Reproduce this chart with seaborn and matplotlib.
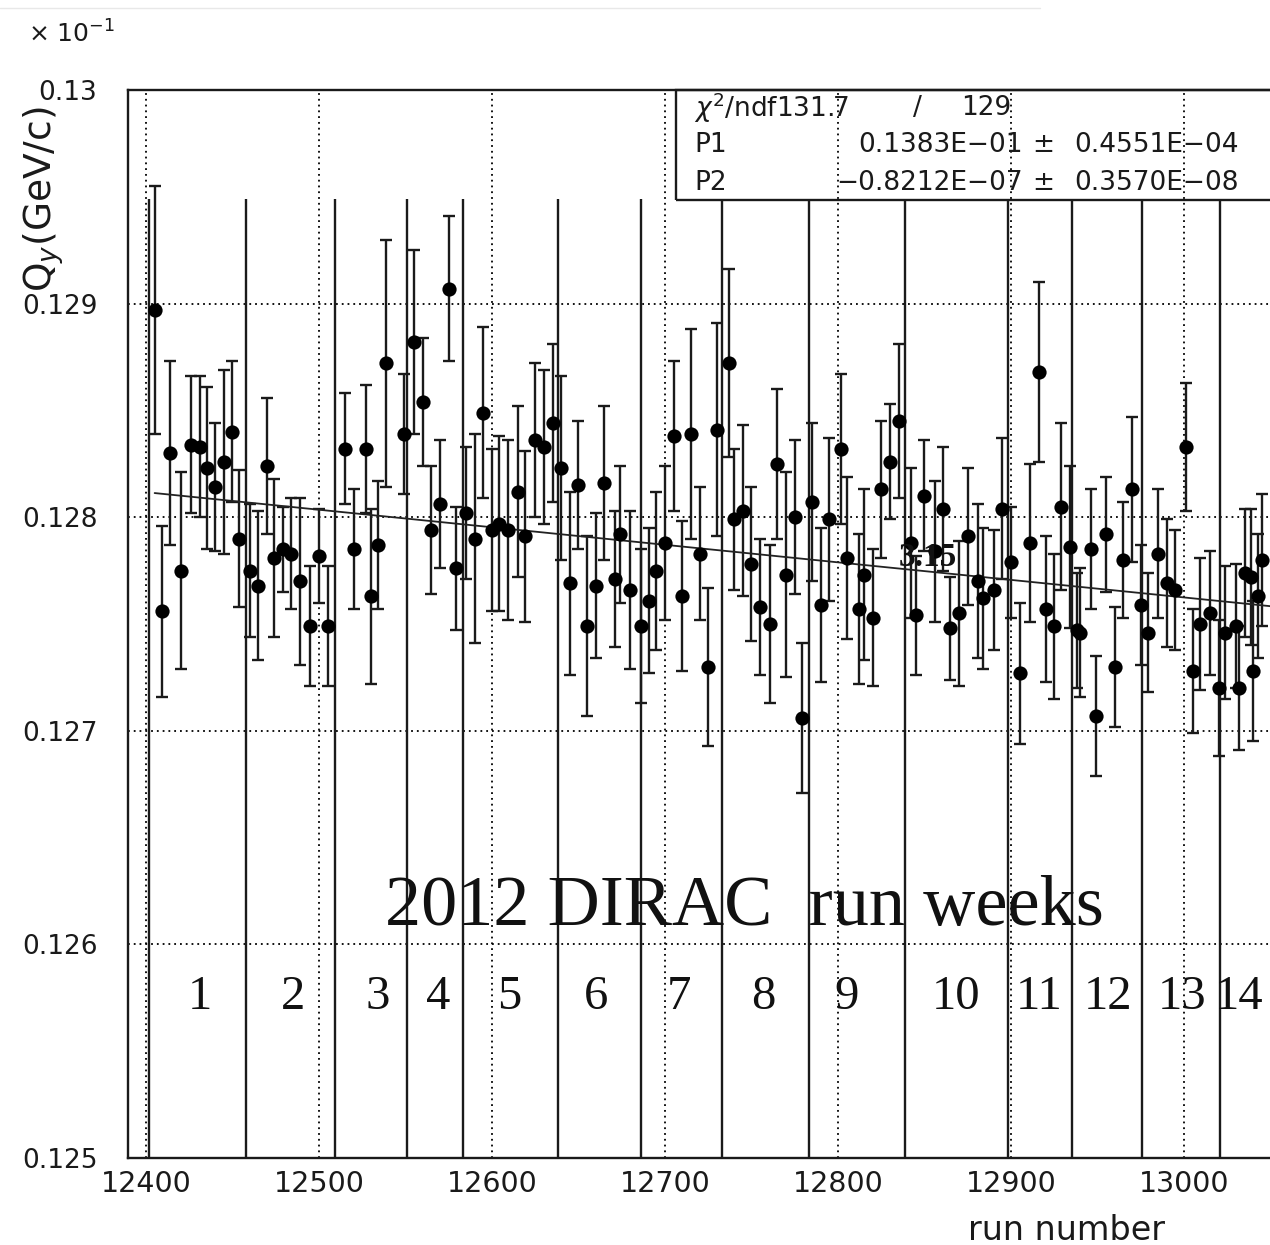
"""
Q_y vs run number, 2012 DIRAC run weeks (ROOT style panel)
"""

import numpy as np
import pandas as pd
import matplotlib
matplotlib.use("Agg")
import matplotlib.pyplot as plt
from matplotlib.ticker import MultipleLocator, FixedLocator, FixedFormatter
from matplotlib.patches import Rectangle
from matplotlib.lines import Line2D
import seaborn as sns

# data (y in units of 10^-1)
runs = [12405, 12409, 12414, 12420, 12426, 12431, 12435, 12440, 12445, 12450,
        12454, 12460, 12465, 12470, 12474, 12479, 12484, 12489, 12495, 12500,
        12505, 12515, 12520, 12527, 12530, 12534, 12539, 12549, 12555, 12560,
        12565, 12570, 12575, 12579, 12585, 12590, 12595, 12600, 12604, 12609,
        12615, 12619, 12625, 12630, 12635, 12640, 12645, 12650, 12655, 12660,
        12665, 12671, 12674, 12680, 12686, 12691, 12695, 12700, 12705, 12710,
        12715, 12720, 12725, 12730, 12737, 12740, 12745, 12750, 12755, 12761,
        12765, 12770, 12775, 12779, 12785, 12790, 12795, 12802, 12805, 12812,
        12815, 12820, 12825, 12830, 12835, 12842, 12845, 12850, 12856, 12861,
        12865, 12870, 12875, 12881, 12884, 12890, 12895, 12900, 12905, 12911,
        12916, 12920, 12925, 12929, 12934, 12938, 12940, 12946, 12949, 12955,
        12960, 12965, 12970, 12975, 12979, 12985, 12990, 12995, 13001, 13005,
        13009, 13015, 13020, 13024, 13030, 13032, 13035, 13039, 13040, 13043,
        13045]

qy = [0.12897, 0.12756, 0.12830, 0.12775, 0.12834, 0.12833, 0.12823, 0.12814, 0.12826, 0.12840,
      0.12790, 0.12775, 0.12768, 0.12824, 0.12781, 0.12785, 0.12783, 0.12770, 0.12749, 0.12782,
      0.12749, 0.12832, 0.12785, 0.12832, 0.12763, 0.12787, 0.12872, 0.12839, 0.12882, 0.12854,
      0.12794, 0.12806, 0.12907, 0.12776, 0.12802, 0.12790, 0.12849, 0.12794, 0.12797, 0.12794,
      0.12812, 0.12791, 0.12836, 0.12833, 0.12844, 0.12823, 0.12769, 0.12815, 0.12749, 0.12768,
      0.12816, 0.12771, 0.12792, 0.12766, 0.12749, 0.12761, 0.12775, 0.12788, 0.12838, 0.12763,
      0.12839, 0.12783, 0.12730, 0.12841, 0.12872, 0.12799, 0.12803, 0.12778, 0.12758, 0.12750,
      0.12825, 0.12773, 0.12800, 0.12706, 0.12807, 0.12759, 0.12799, 0.12832, 0.12781, 0.12757,
      0.12773, 0.12753, 0.12813, 0.12826, 0.12845, 0.12788, 0.12754, 0.12810, 0.12784, 0.12804,
      0.12748, 0.12755, 0.12791, 0.12770, 0.12762, 0.12766, 0.12804, 0.12779, 0.12727, 0.12788,
      0.12868, 0.12757, 0.12749, 0.12805, 0.12786, 0.12747, 0.12746, 0.12785, 0.12707, 0.12792,
      0.12730, 0.12780, 0.12813, 0.12759, 0.12746, 0.12783, 0.12769, 0.12766, 0.12833, 0.12728,
      0.12750, 0.12755, 0.12720, 0.12746, 0.12749, 0.12720, 0.12774, 0.12772, 0.12728, 0.12763,
      0.12780]

qy_err = [0.00058, 0.00040, 0.00043, 0.00046, 0.00032, 0.00033, 0.00038, 0.00030, 0.00043, 0.00033,
          0.00032, 0.00031, 0.00035, 0.00032, 0.00037, 0.00020, 0.00026, 0.00039, 0.00028, 0.00022,
          0.00028, 0.00026, 0.00028, 0.00030, 0.00041, 0.00030, 0.00058, 0.00028, 0.00043, 0.00030,
          0.00030, 0.00030, 0.00034, 0.00029, 0.00031, 0.00049, 0.00040, 0.00038, 0.00041, 0.00042,
          0.00040, 0.00040, 0.00036, 0.00036, 0.00037, 0.00043, 0.00043, 0.00030, 0.00042, 0.00034,
          0.00036, 0.00032, 0.00032, 0.00037, 0.00036, 0.00034, 0.00037, 0.00036, 0.00035, 0.00035,
          0.00049, 0.00031, 0.00037, 0.00050, 0.00044, 0.00033, 0.00040, 0.00036, 0.00032, 0.00037,
          0.00035, 0.00048, 0.00036, 0.00035, 0.00037, 0.00036, 0.00038, 0.00035, 0.00038, 0.00035,
          0.00040, 0.00032, 0.00032, 0.00027, 0.00036, 0.00035, 0.00028, 0.00026, 0.00033, 0.00029,
          0.00024, 0.00034, 0.00032, 0.00036, 0.00033, 0.00028, 0.00033, 0.00026, 0.00033, 0.00037,
          0.00042, 0.00034, 0.00034, 0.00039, 0.00038, 0.00027, 0.00030, 0.00028, 0.00028, 0.00027,
          0.00028, 0.00027, 0.00034, 0.00028, 0.00028, 0.00030, 0.00030, 0.00028, 0.00030, 0.00029,
          0.00031, 0.00029, 0.00032, 0.00031, 0.00029, 0.00029, 0.00030, 0.00032, 0.00033, 0.00029,
          0.00031]

# linear fit from the stats box
fit_p1 = 0.1383e-01
fit_p2 = -0.8212e-07

week_edges = [12402, 12458, 12509, 12551, 12583, 12638, 12686, 12733,
              12783, 12839, 12898, 12935, 12976, 13021]
week_names = [str(k) for k in range(1, 15)]
week_label_x = [12431, 12485, 12534, 12569, 12610, 12660, 12708, 12757,
                12805, 12868, 12916, 12956, 12999, 13032]

y_ticks = [0.125, 0.126, 0.127, 0.128, 0.129, 0.130]
y_tick_labels = ["0.125", "0.126", "0.127", "0.128", "0.129", "0.13"]
x_ticks = [12400, 12500, 12600, 12700, 12800, 12900, 13000]
x_tick_labels = ["12400", "12500", "12600", "12700", "12800", "12900", "13000"]

W, H = 1270, 1245


def fxy(x, y):
    # pixel position -> figure fraction
    return x / W, 1 - y / H


def main():
    sns.set_style("white")
    plt.rcParams['font.family'] = ['DejaVu Sans']

    df = pd.DataFrame({"run": runs, "qy": qy, "err": qy_err})

    fig = plt.figure(figsize=(W / 100, H / 100), dpi=100)
    ax = fig.add_axes([128 / W, 1 - 1158 / H, (1290 - 128) / W, (1158 - 90) / H])

    ax.set_xlim(12389.6, 13061.3)
    ax.set_ylim(0.125, 0.130)

    # week boundaries
    ax.vlines(week_edges, 0.125, 0.12949, colors="#1a1a1a", linewidth=1.7, zorder=3)

    ax.errorbar(df["run"], df["qy"], yerr=df["err"], fmt="none", ecolor="#1a1a1a",
                elinewidth=1.7, capsize=4.5, capthick=1.7, zorder=4)

    x_fit = np.array([runs[0], 13061.3])
    y_fit = (fit_p1 + fit_p2 * x_fit) * 10
    ax.plot(x_fit, y_fit, color="#222222", lw=1.3, zorder=4.5)

    sns.scatterplot(data=df, x="run", y="qy", color="black", s=105, marker="o",
                    linewidth=0, ax=ax, zorder=5, legend=False)

    # ticks / grid ROOT-like
    ax.xaxis.set_major_locator(FixedLocator(x_ticks))
    ax.xaxis.set_major_formatter(FixedFormatter(x_tick_labels))
    ax.xaxis.set_minor_locator(MultipleLocator(20))
    ax.yaxis.set_major_locator(FixedLocator(y_ticks))
    ax.yaxis.set_major_formatter(FixedFormatter(y_tick_labels))
    ax.yaxis.set_minor_locator(MultipleLocator(0.0002))
    ax.tick_params(which="both", direction="in", top=False, right=False,
                   width=1.4, color="#1a1a1a")
    ax.tick_params(which="major", length=17)
    ax.tick_params(which="minor", length=8)
    ax.tick_params(axis="x", which="major", labelsize=20.5, pad=9)
    ax.tick_params(axis="y", which="major", labelsize=19, pad=22)
    for lab in ax.get_xticklabels() + ax.get_yticklabels():
        lab.set_color("#1a1a1a")

    ax.grid(True, which="major", linestyle=(0, (1, 2.2)), color="black",
            linewidth=1.3, zorder=1)
    ax.set_axisbelow(True)
    for side in ax.spines.values():
        side.set_linewidth(1.7)
        side.set_color("#1a1a1a")
    ax.set_xlabel("")
    ax.set_ylabel("")

    # texts on the plot
    ax.text(12746, 0.126093, "2012 DIRAC  run weeks", ha="center", va="baseline",
            fontsize=52, family="Liberation Serif", color="#111111", zorder=6)
    for xw, name in zip(week_label_x, week_names):
        ax.text(xw, 0.125752, name, ha="center", va="center", fontsize=35,
                family="Liberation Serif", color="#111111", zorder=6)
    ax.text(12852, 0.127813, "3.15", ha="center", va="center", fontsize=24,
            fontweight="bold", family="Liberation Serif", color="#111111", zorder=6)

    # stats box
    x0, y0 = fxy(676, 200)
    x1, y1 = fxy(1290, 90)
    fig.add_artist(Rectangle((x0, y0), x1 - x0, y1 - y0, transform=fig.transFigure,
                             fill=False, lw=1.7, edgecolor="#1a1a1a"))
    st = dict(fontsize=19, color="#1a1a1a", va="center")
    fig.text(*fxy(694, 108), r"$\chi^2$/ndf131.7", ha="left", **st)
    fig.text(*fxy(917, 108), "/", ha="center", **st)
    fig.text(*fxy(961, 108), "129", ha="left", **st)
    fig.text(*fxy(694, 145), "P1", ha="left", **st)
    fig.text(*fxy(1023, 145), "0.1383E\u221201", ha="right", **st)
    fig.text(*fxy(1043, 145), "\u00b1", ha="center", **st)
    fig.text(*fxy(1074, 145), "0.4551E\u221204", ha="left", **st)
    fig.text(*fxy(694, 183), "P2", ha="left", **st)
    fig.text(*fxy(1023, 183), "\u22120.8212E\u221207", ha="right", **st)
    fig.text(*fxy(1043, 183), "\u00b1", ha="center", **st)
    fig.text(*fxy(1074, 183), "0.3570E\u221208", ha="left", **st)

    # axis titles
    fig.text(*fxy(44, 106), r"Q$_y$(GeV/c)", rotation=90, ha="center", va="top",
             fontsize=27, color="#1a1a1a")
    fig.text(*fxy(1165, 1230), "run number", ha="right", va="center",
             fontsize=24, color="#1a1a1a")
    fig.text(*fxy(28, 43), "\u00d7 10$^{-1}$", ha="left", va="baseline",
             fontsize=18, color="#1a1a1a")

    fig.add_artist(Line2D([0, 1040 / W], [1 - 8 / H, 1 - 8 / H],
                          transform=fig.transFigure, color="#e8e8e8", lw=1))

    fig.savefig("out.png", dpi=100)


if __name__ == "__main__":
    main()
